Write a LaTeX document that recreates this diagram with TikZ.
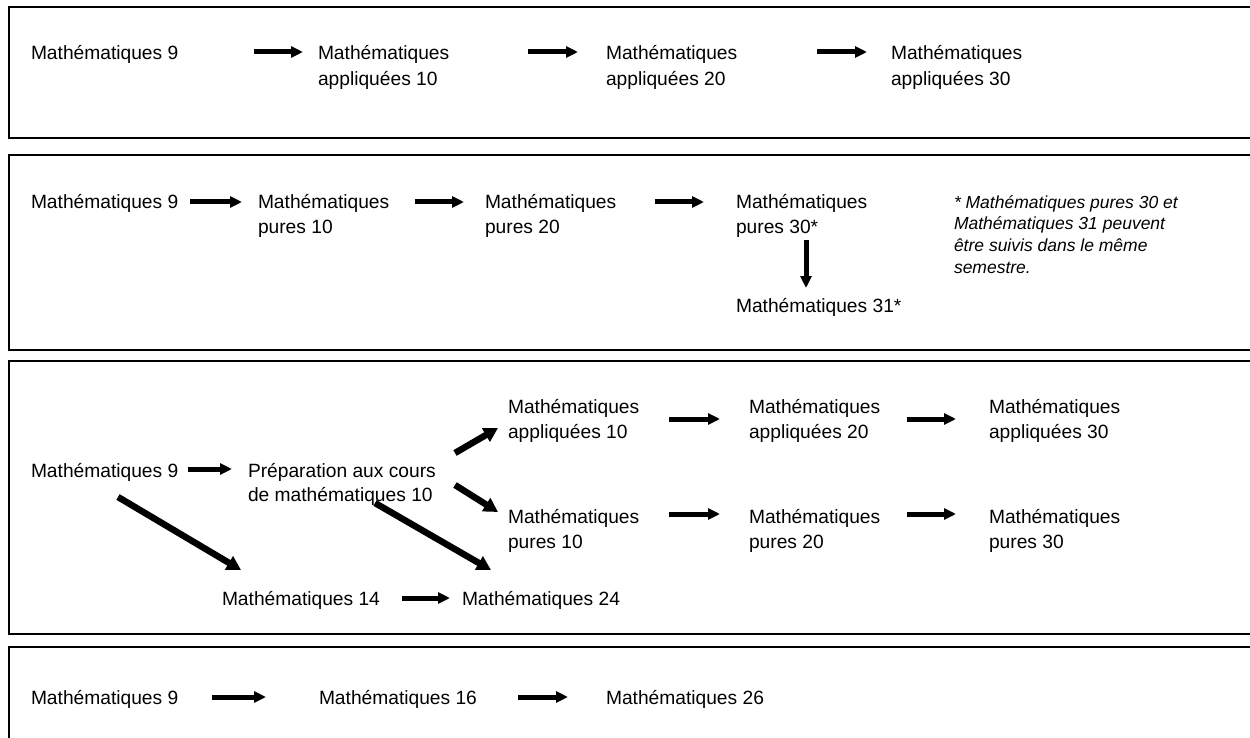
\documentclass[tikz,border=0pt]{standalone}
\usepackage{fontspec}
\setmainfont{Liberation Sans}
\usetikzlibrary{arrows.meta}
\newcommand\twol[3][25.5pt]{\vtop{\baselineskip=#1\relax\hbox{#2}\hbox{#3}}}
\begin{document}
\begin{tikzpicture}[x=1pt,y=-1pt,
  lbl/.style={anchor=base west, inner sep=0pt, outer sep=0pt, font=\fontsize{19.2}{25.5}\selectfont},
  notetxt/.style={anchor=base west, inner sep=0pt, outer sep=0pt, font=\fontsize{17.5}{21.7}\selectfont\itshape},
  arr/.style={line width=5pt, -{Triangle[length=12pt,width=11pt]}},
  darr/.style={line width=6.5pt, -{Triangle[length=14pt,width=15pt]}},
  frame/.style={line width=1.8pt}]
\useasboundingbox (0,0) rectangle (1250,738);
\fill[white] (0,0) rectangle (1250,738);
% frames (open to the right)
\draw[frame] (1270,7) -| (9,138) -- (1270,138);
\draw[frame] (1270,155) -| (9,350) -- (1270,350);
\draw[frame] (1270,361) -| (9,634) -- (1270,634);
\draw[frame] (1270,647) -| (9,760) -- (1270,760);

% ---- box 1
\node[lbl] (b1m9) at (31,60) {Mathématiques 9};
\node[lbl] (b1a10) at (318,60) {\twol{Mathématiques}{appliquées 10}};
\node[lbl] (b1a20) at (606,60) {\twol{Mathématiques}{appliquées 20}};
\node[lbl] (b1a30) at (891,60) {\twol{Mathématiques}{appliquées 30}};
\draw[arr] ([xshift=223pt,yshift=8pt]b1m9.base west) -- ([xshift=-15pt,yshift=8pt]b1a10.base west);
\draw[arr] ([xshift=210pt,yshift=8pt]b1a10.base west) -- ([xshift=-28pt,yshift=8pt]b1a20.base west);
\draw[arr] ([xshift=211pt,yshift=8pt]b1a20.base west) -- ([xshift=-24pt,yshift=8pt]b1a30.base west);

% ---- box 2
\node[lbl] (b2m9) at (31,208) {Mathématiques 9};
\node[lbl] (b2p10) at (258,208) {\twol{Mathématiques}{pures 10}};
\node[lbl] (b2p20) at (485,208) {\twol{Mathématiques}{pures 20}};
\node[lbl] (b2p30) at (736,208) {\twol{Mathématiques}{pures 30*}};
\node[lbl] (b2m31) at (736,312) {Mathématiques 31*};
\node[notetxt] (note) at (954,208) {\vtop{\baselineskip=21.7pt\relax
  \hbox{* Mathématiques pures 30 et}
  \hbox{Mathématiques 31 peuvent}
  \hbox{être suivis dans le même}
  \hbox{semestre.}}};
\draw[arr] ([xshift=159pt,yshift=6pt]b2m9.base west) -- ([xshift=-16pt,yshift=6pt]b2p10.base west);
\draw[arr] ([xshift=157pt,yshift=6pt]b2p10.base west) -- ([xshift=-21pt,yshift=6pt]b2p20.base west);
\draw[arr] ([xshift=170pt,yshift=6pt]b2p20.base west) -- ([xshift=-32pt,yshift=6pt]b2p30.base west);
\draw[arr] ([xshift=70pt,yshift=-32pt]b2p30.base west) -- ([xshift=70pt,yshift=24pt]b2m31.base west);

% ---- box 3
\node[lbl] (b3m9) at (31,477) {Mathématiques 9};
\node[lbl] (b3prep) at (248,477) {\twol[24pt]{Préparation aux cours}{de mathématiques 10}};
\node[lbl] (b3a10) at (508,413) {\twol{Mathématiques}{appliquées 10}};
\node[lbl] (b3a20) at (749,413) {\twol{Mathématiques}{appliquées 20}};
\node[lbl] (b3a30) at (989,413) {\twol{Mathématiques}{appliquées 30}};
\node[lbl] (b3p10) at (508,523) {\twol{Mathématiques}{pures 10}};
\node[lbl] (b3p20) at (749,523) {\twol{Mathématiques}{pures 20}};
\node[lbl] (b3p30) at (989,523) {\twol{Mathématiques}{pures 30}};
\node[lbl] (b3m14) at (222,605) {Mathématiques 14};
\node[lbl] (b3m24) at (462,605) {Mathématiques 24};
\draw[arr] ([xshift=157pt,yshift=8pt]b3m9.base west) -- ([xshift=-16pt,yshift=8pt]b3prep.base west);
\draw[darr] ([xshift=207pt,yshift=24pt]b3prep.base west) -- ([xshift=-10pt,yshift=-15pt]b3a10.base west);
\draw[darr] ([xshift=207pt,yshift=-8pt]b3prep.base west) -- ([xshift=-10pt,yshift=11pt]b3p10.base west);
\draw[arr] ([xshift=161pt,yshift=-6pt]b3a10.base west) -- ([xshift=-29pt,yshift=-6pt]b3a20.base west);
\draw[arr] ([xshift=158pt,yshift=-6pt]b3a20.base west) -- ([xshift=-33pt,yshift=-6pt]b3a30.base west);
\draw[arr] ([xshift=161pt,yshift=9pt]b3p10.base west) -- ([xshift=-29pt,yshift=9pt]b3p20.base west);
\draw[arr] ([xshift=158pt,yshift=9pt]b3p20.base west) -- ([xshift=-33pt,yshift=9pt]b3p30.base west);
\draw[darr] ([xshift=87pt,yshift=-20pt]b3m9.base west) -- ([xshift=19pt,yshift=35pt]b3m14.base west);
\draw[darr] ([xshift=127pt,yshift=-26pt]b3prep.base west) -- ([xshift=29pt,yshift=35pt]b3m24.base west);
\draw[arr] ([xshift=180pt,yshift=7pt]b3m14.base west) -- ([xshift=-12pt,yshift=7pt]b3m24.base west);

% ---- box 4
\node[lbl] (b4m9) at (31,704) {Mathématiques 9};
\node[lbl] (b4m16) at (319,704) {Mathématiques 16};
\node[lbl] (b4m26) at (606,704) {Mathématiques 26};
\draw[arr] ([xshift=181pt,yshift=7pt]b4m9.base west) -- ([xshift=-53pt,yshift=7pt]b4m16.base west);
\draw[arr] ([xshift=199pt,yshift=7pt]b4m16.base west) -- ([xshift=-38pt,yshift=7pt]b4m26.base west);
\end{tikzpicture}
\end{document}
